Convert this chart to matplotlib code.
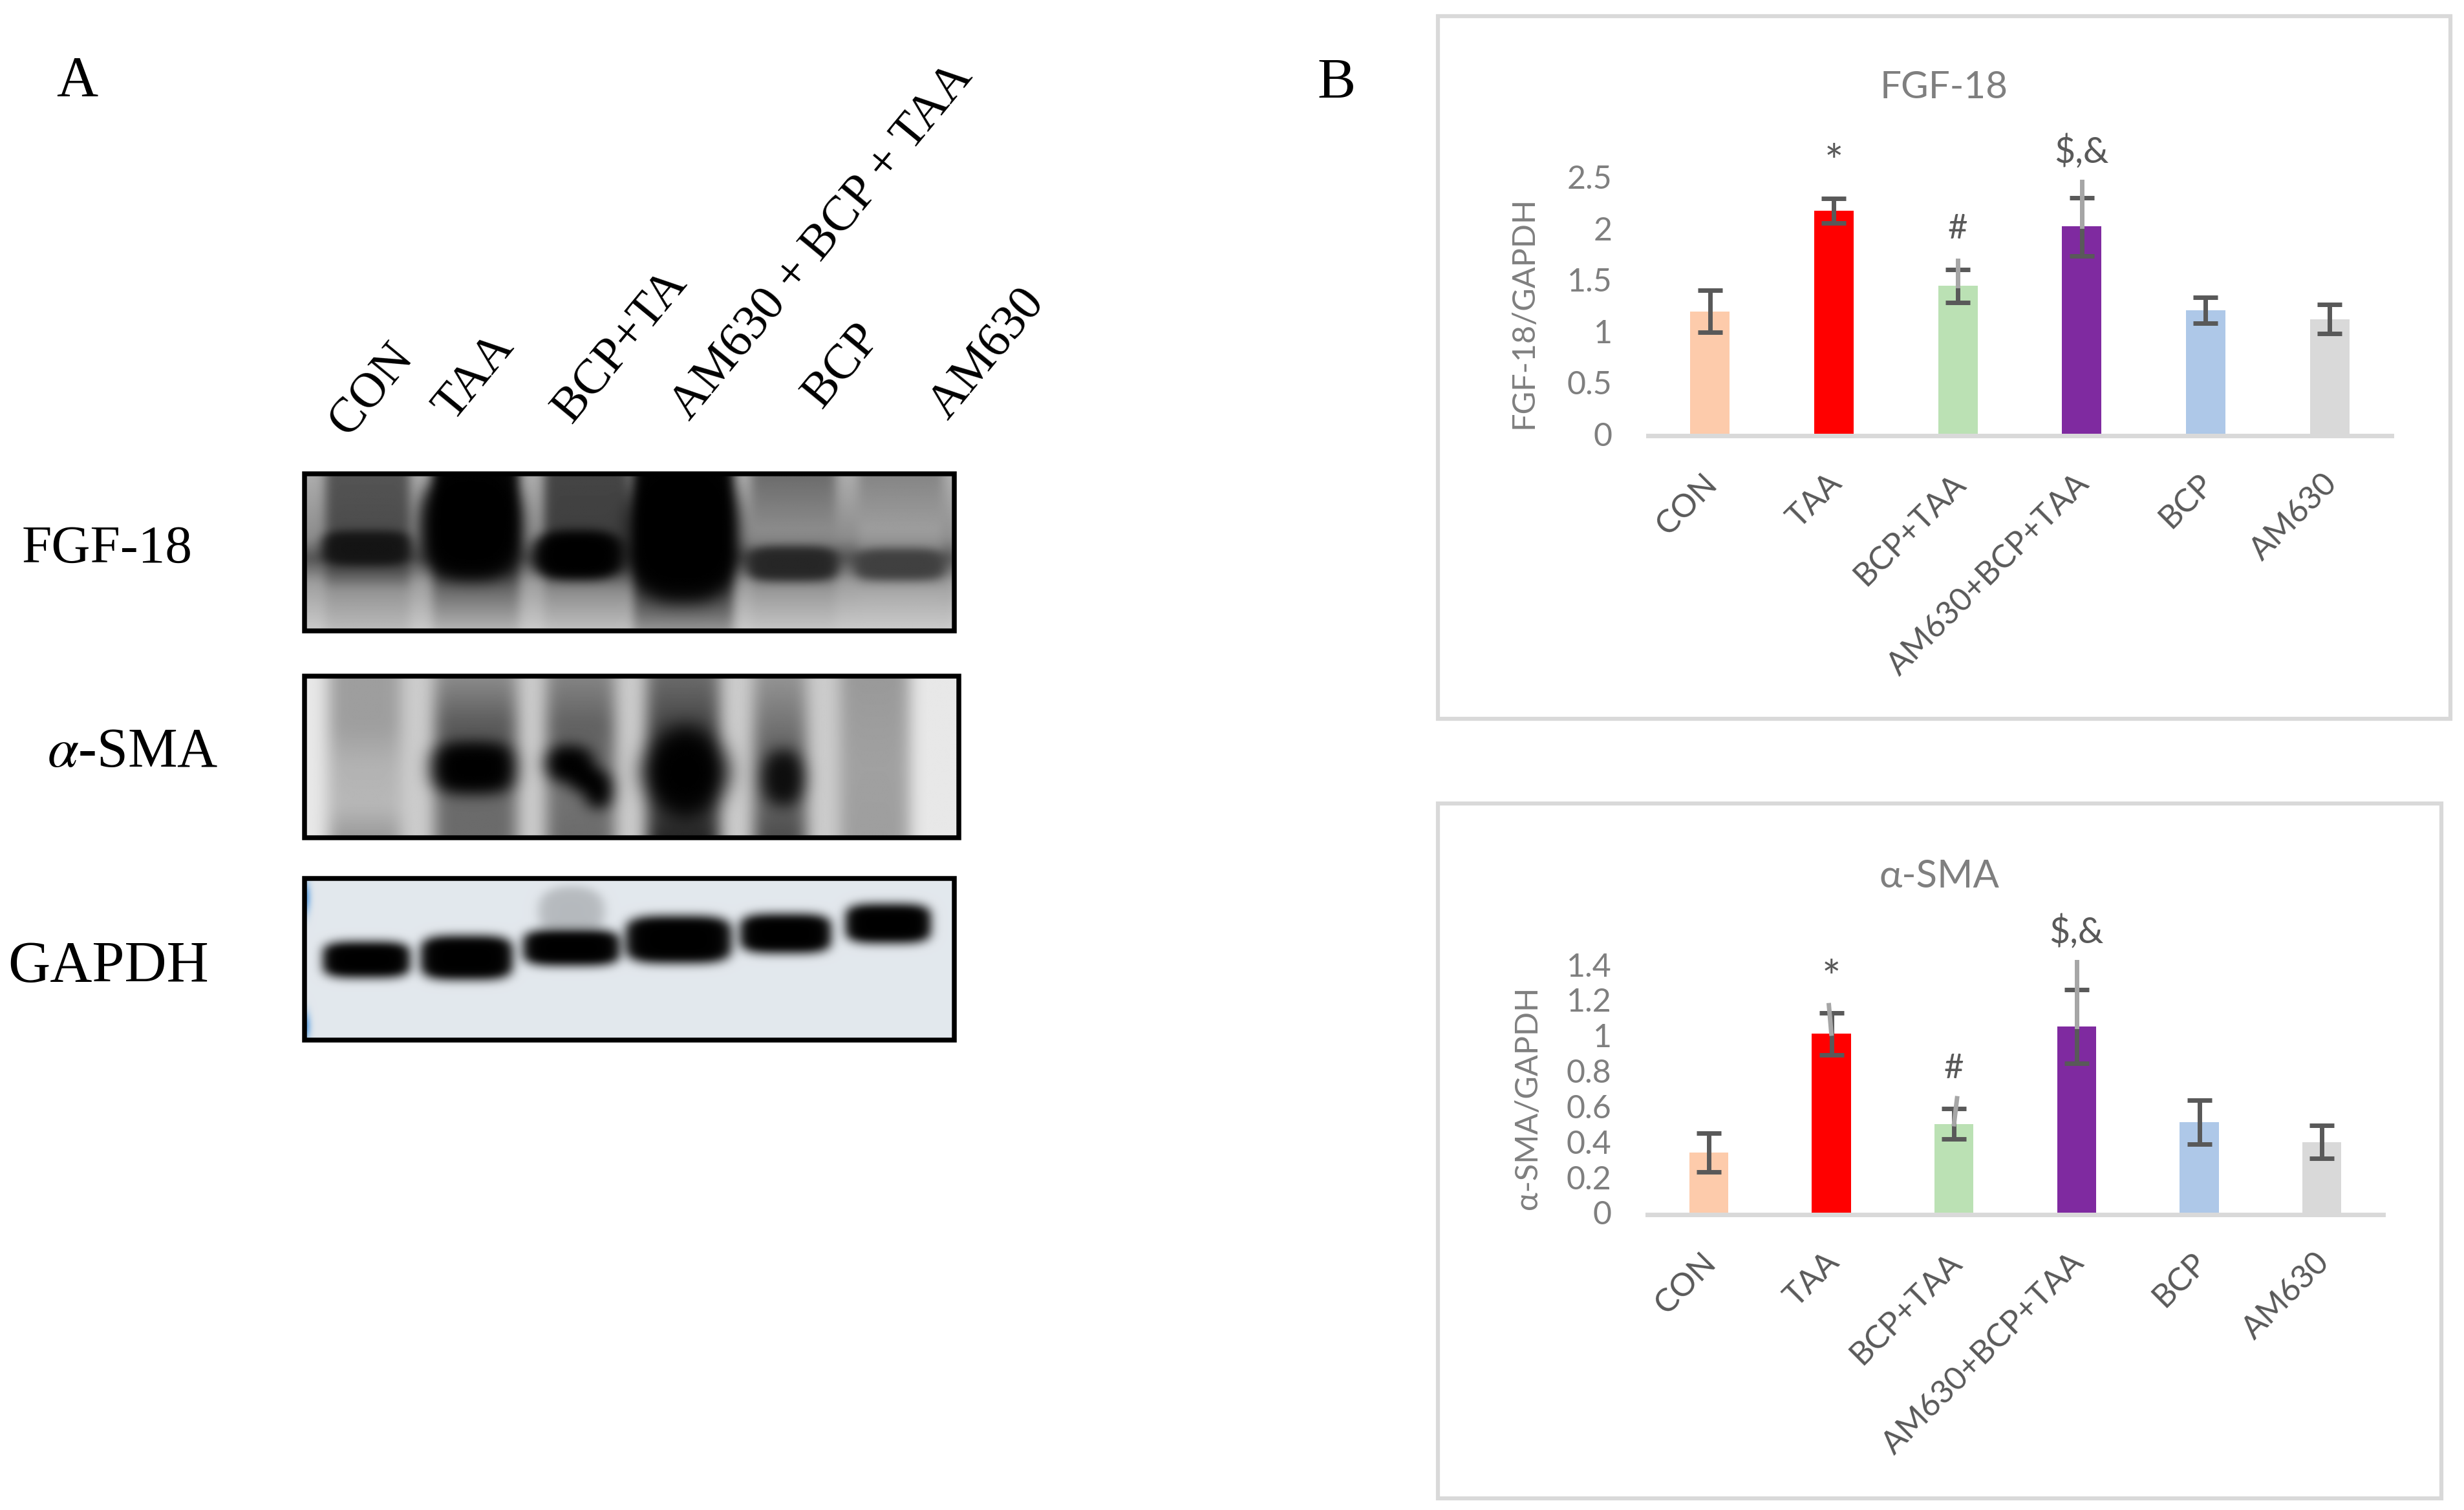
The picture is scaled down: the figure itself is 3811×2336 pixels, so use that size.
import numpy as np
import matplotlib
matplotlib.use("Agg")
import matplotlib.pyplot as plt
from matplotlib.patches import Rectangle
from matplotlib.transforms import ScaledTranslation

W, H = 3812, 2336
SANS = ['Lato', 'Open Sans', 'DejaVu Sans']
SERIF = ['Liberation Serif', 'DejaVu Serif']
plt.rcParams['mathtext.fontset'] = 'stix'

# chart values
groups = ['CON', 'TAA', 'BCP+TAA', 'AM630+BCP+TAA', 'BCP', 'AM630']
bar_colors = ['#fdcbab', '#ff0000', '#bbe1b4', '#7f2aa0', '#aec8e8', '#d9d9d9']

fgf_values = [1.19, 2.17, 1.44, 2.02, 1.205, 1.116]
fgf_err_low = [0.99, 2.05, 1.28, 1.73, 1.076, 0.973]
fgf_err_high = [1.40, 2.295, 1.60, 2.30, 1.33, 1.26]
fgf_ticks = [0, 0.5, 1, 1.5, 2, 2.5]
fgf_tick_labels = ['0', '0.5', '1', '1.5', '2', '2.5']
fgf_marks = [(1, 2.62, '*', 50), (2, 1.99, '#', 38), (3, 2.745, '$,&', 40)]
# stray grey whiskers in the original (group, top, bottom, top x shift)
fgf_stray = [(2, 1.69, 1.44, 0), (3, 2.455, 2.02, 0)]

sma_values = [0.339, 1.01, 0.499, 1.049, 0.512, 0.398]
sma_err_low = [0.229, 0.889, 0.414, 0.841, 0.386, 0.306]
sma_err_high = [0.45, 1.126, 0.586, 1.257, 0.635, 0.494]
sma_ticks = [0, 0.2, 0.4, 0.6, 0.8, 1, 1.2, 1.4]
sma_tick_labels = ['0', '0.2', '0.4', '0.6', '0.8', '1', '1.2', '1.4']
sma_marks = [(1, 1.31, '*', 50), (2, 0.812, '#', 38), (3, 1.583, '$,&', 40)]
sma_stray = [(1, 1.17, 1.01, -0.02), (2, 0.645, 0.499, 0.025), (3, 1.415, 1.049, 0)]

blot_labels = ['CON', 'TAA', 'BCP+TA', 'AM630 + BCP + TAA', 'BCP', 'AM630']
blot_label_xy = [(575, 602), (734, 583), (960, 535), (1272, 374), (1303, 566), (1527, 548)]


def box(x, a, b, s=6.0):
    return 0.5 * (np.tanh((x - a) / s) - np.tanh((x - b) / s))


def blob(X, Y, cx, cy, rx, ry, p=2.6, soft=0.18):
    r = np.abs((X - cx) / rx) ** p + np.abs((Y - cy) / ry) ** p
    return 1 / (1 + np.exp(np.clip((r - 1) / soft, -30, 30)))


def blur(img, sigma):
    t = np.arange(-int(3 * sigma), int(3 * sigma) + 1)
    k = np.exp(-0.5 * (t / sigma) ** 2)
    k /= k.sum()
    n = len(t) // 2
    padded = np.pad(img, n, mode='edge')
    padded = np.apply_along_axis(lambda v: np.convolve(v, k, mode='same'), 0, padded)
    padded = np.apply_along_axis(lambda v: np.convolve(v, k, mode='same'), 1, padded)
    return padded[n:-n, n:-n]


def lanes_and_bands(X, Y, lanes, bands, sigma):
    img = np.ones_like(X, dtype=float)
    for a, b, ys, vals in lanes:
        m = box(X, a, b)
        img = img * (1 - m) + m * np.interp(Y, ys, vals)
    for cx, cy, rx, ry, dark, p in bands:
        m = blob(X, Y, cx, cy, rx, ry, p)
        img = img * (1 - m) + m * dark
    return blur(img, sigma)


fig = plt.figure(figsize=(W / 100, H / 100), dpi=100, facecolor='white')
bg = fig.add_axes([0, 0, 1, 1])

# blots, laid out on a 1430 wide grid
gx, gy = np.meshgrid(np.arange(50, 1476, 2.0), np.arange(60, 452, 2.0))
lanes1 = [
    (0, 1480, [60, 220, 270, 330, 452], [0.68, 0.55, 0.32, 0.62, 0.8]),
    (95, 280, [60, 190, 300, 350, 452], [0.33, 0.3, 0.3, 0.58, 0.74]),
    (330, 520, [60, 300, 350, 452], [0.02, 0.2, 0.42, 0.72]),
    (575, 760, [60, 190, 300, 350, 452], [0.27, 0.25, 0.3, 0.55, 0.76]),
    (770, 990, [60, 300, 400, 452], [0.02, 0.1, 0.4, 0.6]),
    (1030, 1215, [60, 200, 300, 350, 452], [0.42, 0.55, 0.4, 0.6, 0.78]),
    (1265, 1450, [60, 200, 300, 350, 452], [0.52, 0.62, 0.45, 0.66, 0.8]),
]
bands1 = [
    (185, 245, 98, 44, 0.08, 4), (415, 190, 112, 135, 0.0, 2.6), (650, 262, 98, 62, 0.0, 3),
    (880, 210, 122, 170, 0.0, 2.6), (1120, 283, 100, 44, 0.15, 4), (1355, 285, 100, 40, 0.25, 4),
]
img1 = lanes_and_bands(gx, gy, lanes1, bands1, 5)
bg.imshow(img1, cmap='gray', vmin=0, vmax=1, extent=[471, 1476, 976, 733], aspect='auto', interpolation='bilinear')

gx2, gy2 = np.meshgrid(np.arange(50, 1486, 2.0), np.arange(578, 980, 2.0))
lanes2 = [
    (0, 1600, [578, 980], [0.8, 0.8]),
    (0, 95, [578, 980], [0.91, 0.91]),
    (1380, 1600, [578, 980], [0.91, 0.91]),
    (105, 260, [578, 700, 800, 900, 980], [0.62, 0.62, 0.7, 0.72, 0.6]),
    (335, 515, [578, 700, 880, 980], [0.55, 0.35, 0.42, 0.42]),
    (580, 730, [578, 700, 880, 980], [0.52, 0.38, 0.45, 0.42]),
    (800, 960, [578, 700, 900, 980], [0.42, 0.28, 0.28, 0.14]),
    (1035, 1150, [578, 750, 900, 980], [0.58, 0.4, 0.38, 0.3]),
    (1225, 1375, [578, 800, 980], [0.6, 0.63, 0.62]),
]
bands2 = [
    (420, 805, 94, 66, 0.0, 3), (630, 795, 54, 46, 0.0, 2.4), (665, 830, 36, 36, 0.0, 2.4),
    (695, 860, 32, 46, 0.0, 2.4), (885, 815, 94, 115, 0.0, 1.8), (1100, 830, 48, 70, 0.05, 2.2),
]
img2 = lanes_and_bands(gx2, gy2, lanes2, bands2, 8)
bg.imshow(img2, cmap='gray', vmin=0, vmax=1, extent=[471, 1483, 1296, 1046], aspect='auto', interpolation='bilinear')

gx3, gy3 = np.meshgrid(np.arange(50, 1476, 2.0), np.arange(1094, 1496, 2.0))
gapdh_bands = [
    (185, 1295, 92, 40), (405, 1290, 97, 50), (635, 1265, 102, 40),
    (870, 1245, 112, 54), (1105, 1230, 96, 44), (1330, 1205, 90, 44),
]
bands3 = [(635, 1175, 72, 62, 0.8, 2.4)]
bands3 += [(cx, cy, rx + 8, ry + 14, 0.6, 4) for cx, cy, rx, ry in gapdh_bands]
bands3 += [(cx, cy, rx, ry, 0.0, 4) for cx, cy, rx, ry in gapdh_bands]
g3 = lanes_and_bands(gx3, gy3, [], bands3, 4)
img3 = np.dstack([0.89 * g3, 0.91 * g3, 0.93 * g3])
edge = np.exp(-((gx3 - 50) / 12.0) ** 2)[..., None] * (
    np.exp(-((gy3 - 1140) / 40.0) ** 2) + np.exp(-((gy3 - 1460) / 35.0) ** 2))[..., None]
img3 = img3 * (1 - edge) + np.array([0.35, 0.62, 0.88]) * edge
bg.imshow(img3, extent=[471, 1476, 1609, 1359], aspect='auto', interpolation='bilinear')

for x0, y0, x1, y1 in [(471, 733, 1476, 976), (471, 1046, 1483, 1296), (471, 1359, 1476, 1609)]:
    bg.add_patch(Rectangle((x0, y0), x1 - x0, y1 - y0, fill=False, ec='black', lw=5.4))

# chart frames
for x0, y0, x1, y1 in [(2224, 25, 3790, 1112), (2224, 1243, 3776, 2318)]:
    bg.add_patch(Rectangle((x0, y0), x1 - x0, y1 - y0, fill=False, ec='#d9d9d9', lw=4.5))

bg.set_xlim(0, W)
bg.set_ylim(H, 0)
bg.axis('off')

for label, (x, y) in zip(blot_labels, blot_label_xy):
    bg.text(x, y, label, rotation=50.5, rotation_mode='anchor', ha='center', va='center',
            family=SERIF, fontsize=55, color='black')

bg.text(87, 148, 'A', family=SERIF, fontsize=64, color='black')
bg.text(2037, 151, 'B', family=SERIF, fontsize=64, color='black')
bg.text(34, 850, 'FGF-18', family=SERIF, fontsize=60, va='center', color='black')
bg.text(73, 1165, r'$\alpha$-SMA', family=SERIF, fontsize=62, va='center', color='black')
bg.text(12, 1497, 'GAPDH', family=SERIF, fontsize=65, va='center', color='black')
bg.text(3007, 136, 'FGF-18', family=SANS, fontsize=42, ha='center', va='center', color='#7f7f7f')
bg.text(3000, 1356, 'α-SMA', family=SANS, fontsize=43, ha='center', va='center', color='#7f7f7f')


def bar_chart(rect, values, low, high, ticks, tick_labels, marks, stray, ylabel, label_xy):
    left, top, right, bottom = rect
    ax = fig.add_axes([left / W, 1 - bottom / H, (right - left) / W, (bottom - top) / H])
    ax.patch.set_alpha(0)
    for side in ['top', 'left', 'right']:
        ax.spines[side].set_visible(False)
    ax.spines['bottom'].set_color('#d9d9d9')
    ax.spines['bottom'].set_linewidth(5)
    ax.spines['bottom'].set_position(('outward', 2.5))
    x = np.arange(len(groups))
    ax.bar(x, values, width=0.318, color=bar_colors, zorder=2)
    vals = np.array(values)
    yerr = [vals - np.array(low), np.array(high) - vals]
    ax.errorbar(x, vals, yerr=yerr, fmt='none', ecolor='#595959', elinewidth=5,
                capsize=14, capthick=5, zorder=3)
    for i, y_top, y_bot, shift in stray:
        ax.plot([i + shift, i], [y_top, y_bot], color='#a6a6a6', lw=5, zorder=4, clip_on=False)
    for i, y, s, size in marks:
        ax.text(i, y, s, family=SANS, fontsize=size, ha='center', va='center', color='#595959')
    ax.set_xlim(-0.5, 5.5)
    ax.set_ylim(0, ticks[-1])
    ax.set_yticks(ticks, tick_labels, family=SANS, fontsize=36, color='#7f7f7f')
    ax.set_xticks(x, groups, rotation=45, ha='right', rotation_mode='anchor',
                  family=SANS, fontsize=36, color='#595959')
    ax.tick_params(axis='y', length=0, pad=40)
    ax.tick_params(axis='x', length=0, pad=36)
    # excel puts the slanted labels a little left of the bar centre
    nudge = ScaledTranslation(-12 / 100, 0, fig.dpi_scale_trans)
    for lab in ax.get_xticklabels():
        lab.set_transform(lab.get_transform() + nudge)
    ax.set_ylabel(ylabel, family=SANS, fontsize=35, color='#7f7f7f')
    ax.yaxis.set_label_coords(*label_xy)
    return ax


bar_chart((2549, 274, 3699, 671), fgf_values, fgf_err_low, fgf_err_high, fgf_ticks, fgf_tick_labels,
          fgf_marks, fgf_stray, 'FGF-18/GAPDH', (-0.148, 0.4736))
bar_chart((2548, 1492, 3686, 1876), sma_values, sma_err_low, sma_err_high, sma_ticks, sma_tick_labels,
          sma_marks, sma_stray, 'α-SMA/GAPDH', (-0.143, 0.4635))

fig.savefig('out.png', dpi=100)
